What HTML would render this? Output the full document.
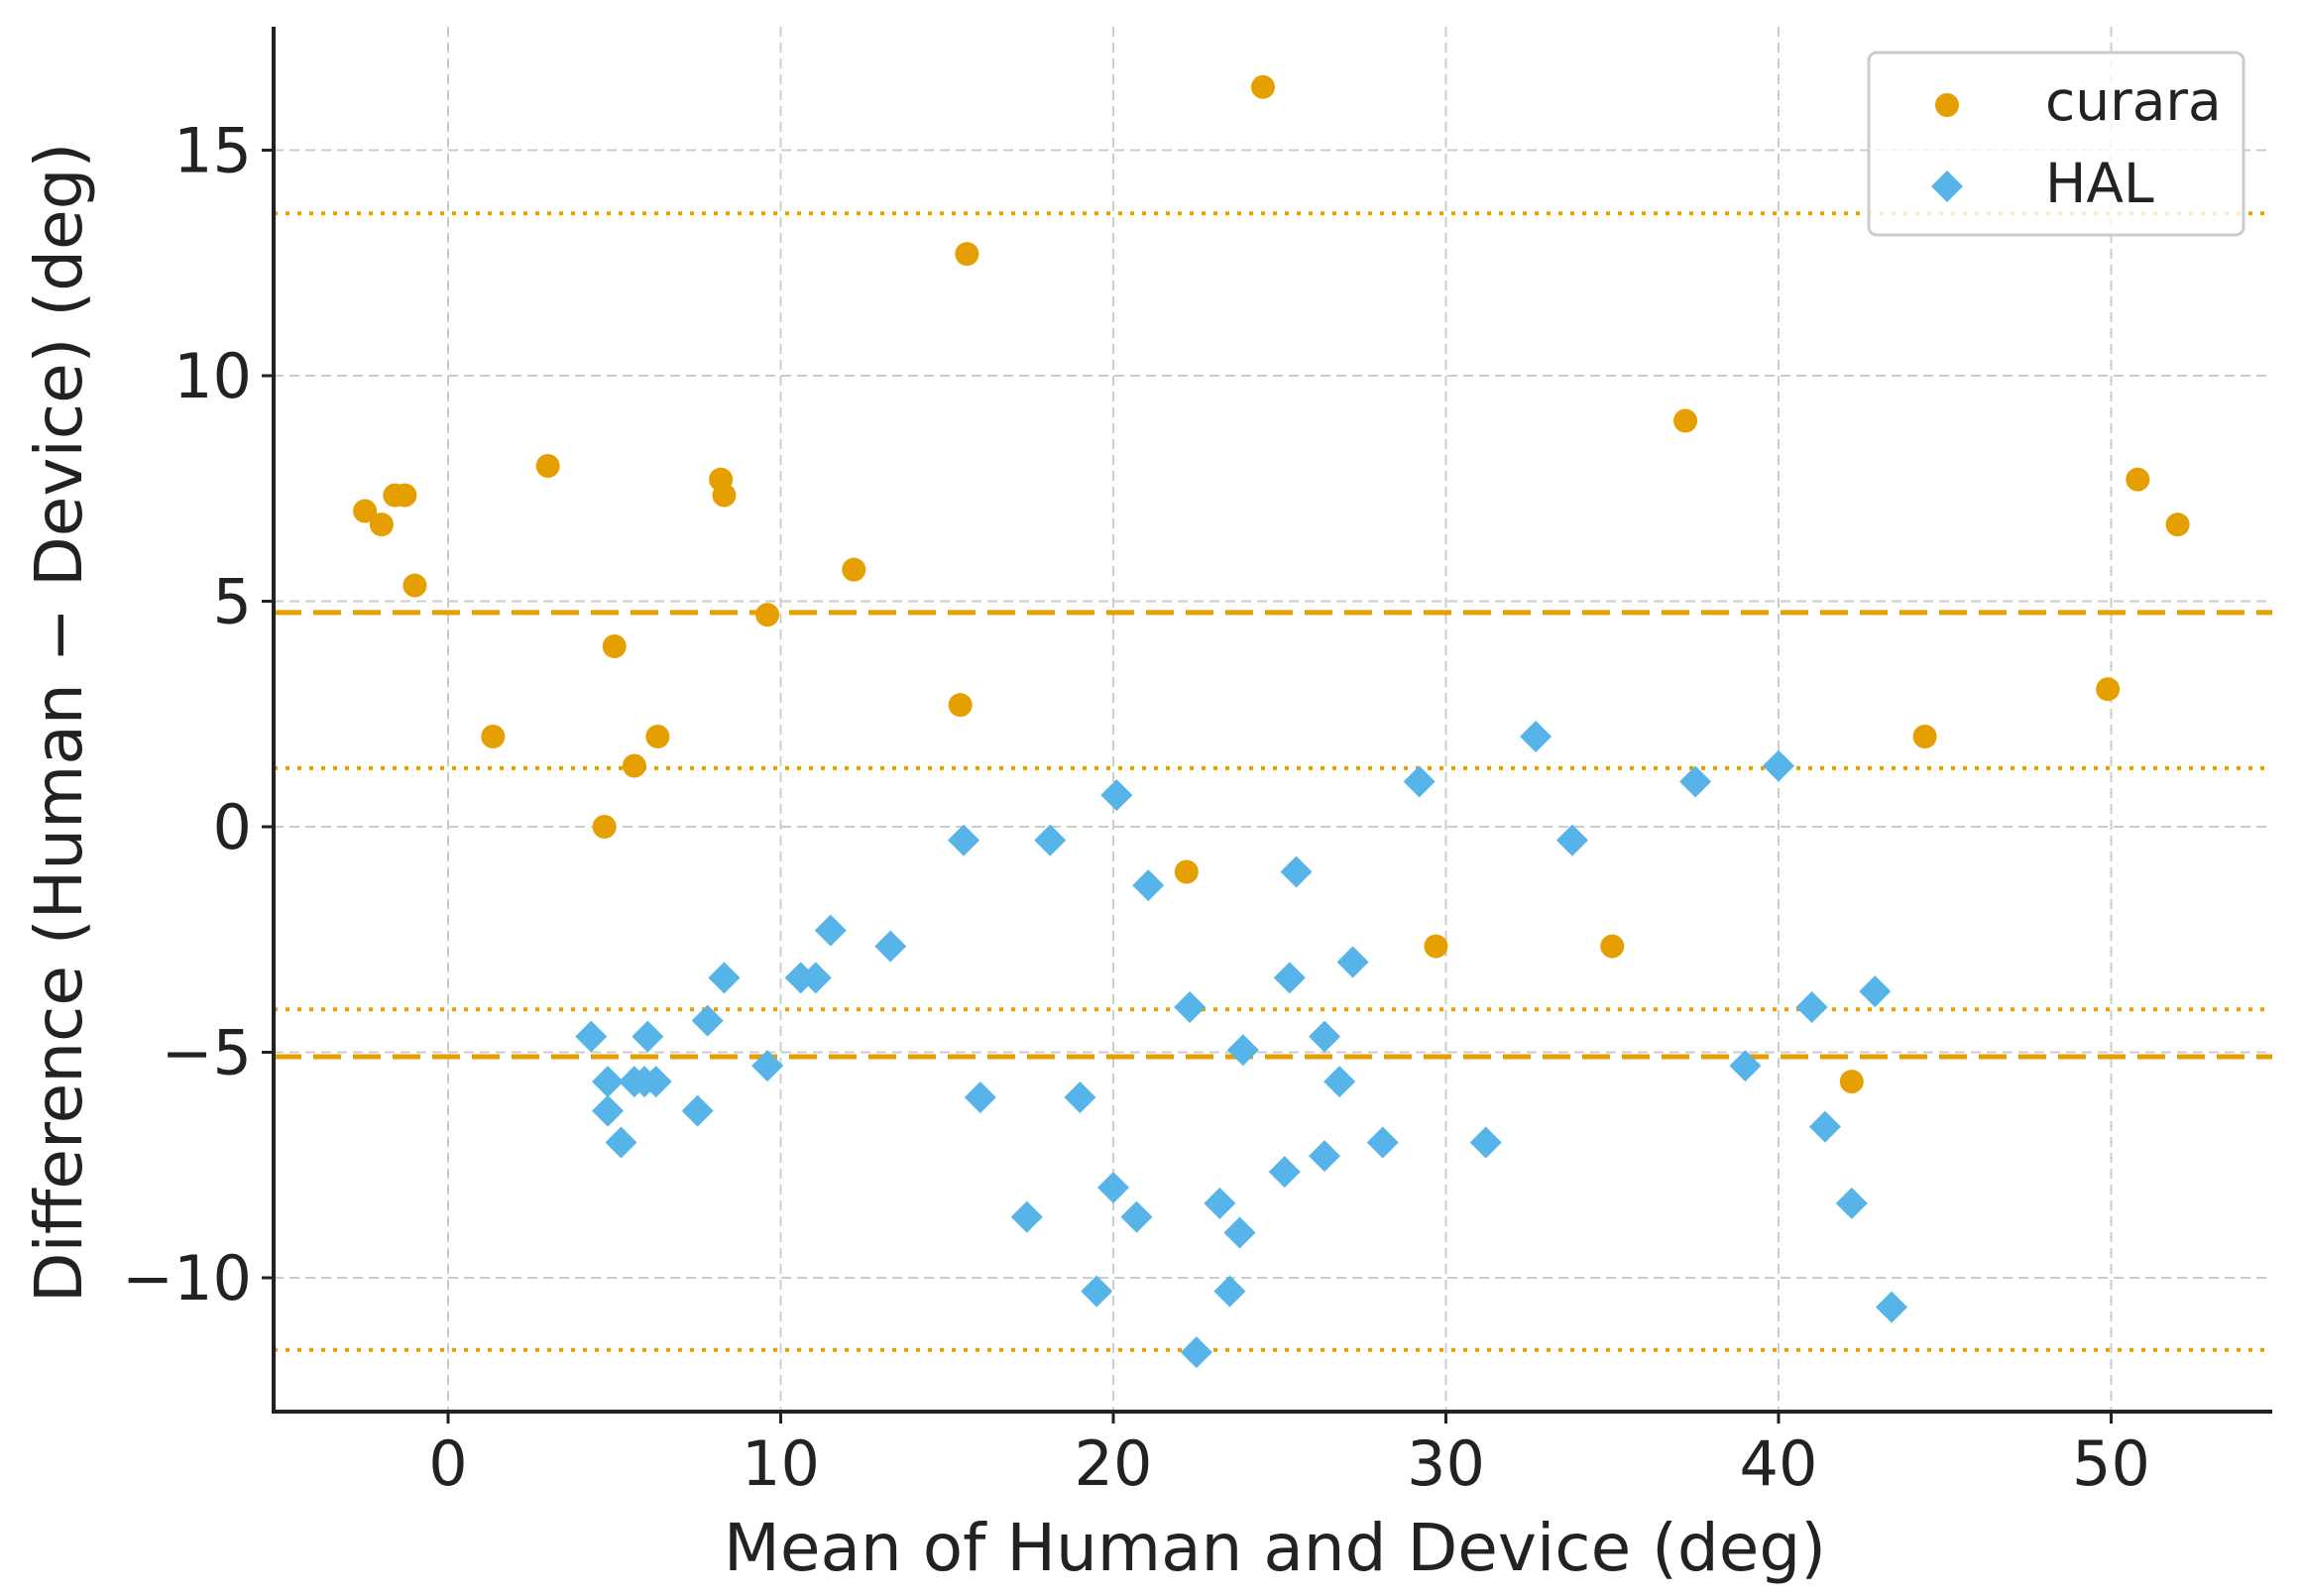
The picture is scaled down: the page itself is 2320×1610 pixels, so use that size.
<!DOCTYPE html>
<html><head><meta charset="utf-8"><style>
html,body{margin:0;padding:0;background:#fff;}
svg{display:block;font-family:"DejaVu Sans","Liberation Sans",sans-serif;}
</style></head><body>
<svg id="chart" width="2320" height="1610" xmlns="http://www.w3.org/2000/svg">
<g id="grid"></g>
<g id="reflines"></g>
<g id="points"></g>
<g id="axes"></g>
<text x="1286" y="1584" font-size="66" text-anchor="middle" fill="#222">Mean of Human and Device (deg)</text>
<text transform="translate(82,729) rotate(-90)" font-size="66" text-anchor="middle" fill="#222">Difference (Human − Device) (deg)</text>
<g>
<rect x="1885" y="53" width="378" height="184" rx="8" fill="rgba(255,255,255,0.8)" stroke="#ccc" stroke-width="3"/>
<circle cx="1964" cy="106" r="12" fill="#E69F00"/>
<text x="2063" y="121" font-size="55" fill="#222">curara</text>
<polygon points="1964,172 1980,188 1964,204 1948,188" fill="#56B4E9"/>
<text x="2063" y="204" font-size="55" fill="#222">HAL</text>
</g>
</svg>
<script>
const xTicks=[0,10,20,30,40,50];
const yTicks=[15,10,5,0,-5,-10];
const yTickLabels=["15","10","5","0","−5","−10"];
const meanLines=[4.75,-5.1];
const loaLines=[13.6,1.3,-4.05,-11.6];
const curaraX=[-2.5,-2.0,-1.6,-1.3,-1.0,1.35,3.0,4.7,5.0,5.6,6.3,8.2,8.3,9.6,12.2,15.4,15.6,22.2,24.5,29.7,35.0,37.2,42.2,44.4,49.9,50.8,52.0];
const curaraY=[7.0,6.7,7.35,7.35,5.35,2.0,8.0,0,4.0,1.35,2.0,7.7,7.35,4.7,5.7,2.7,12.7,-1.0,16.4,-2.65,-2.65,9.0,-5.65,2.0,3.05,7.7,6.7];
const halX=[4.3,4.8,4.8,5.2,5.6,5.9,6.0,6.25,7.5,7.8,8.3,9.6,10.6,11.05,11.5,13.3,15.5,16.0,17.4,18.1,19.0,19.5,20.0,20.1,20.7,21.05,22.3,22.5,23.2,23.5,23.8,23.9,25.15,25.3,25.5,26.35,26.35,26.8,27.2,28.1,29.2,31.2,32.7,33.8,37.5,39.0,40.0,41.0,41.4,42.2,42.9,43.4];
const halY=[-4.65,-5.65,-6.3,-7.0,-5.65,-5.65,-4.65,-5.65,-6.3,-4.3,-3.35,-5.3,-3.35,-3.35,-2.3,-2.65,-0.3,-6.0,-8.65,-0.3,-6.0,-10.3,-8.0,0.7,-8.65,-1.3,-4.0,-11.65,-8.35,-10.3,-9.0,-4.95,-7.65,-3.35,-1.0,-7.3,-4.65,-5.65,-3.0,-7.0,1.0,-7.0,2.0,-0.3,1.0,-5.3,1.35,-4.0,-6.65,-8.35,-3.65,-10.65];

const L=276,R=2292,T=27,B=1424;
const sx=v=>452+v*33.55;
const sy=v=>834-v*45.5;
const NS="http://www.w3.org/2000/svg";
function mk(tag,parent,attrs){const e=document.createElementNS(NS,tag);for(const k in attrs)e.setAttribute(k,attrs[k]);parent.appendChild(e);return e;}
const grid=document.getElementById('grid'),ref=document.getElementById('reflines'),pts=document.getElementById('points'),axes=document.getElementById('axes');
xTicks.forEach((t,i)=>{
  const g=mk('line',grid,{x1:sx(t),x2:sx(t),y1:T,y2:B,stroke:'#ccc','stroke-width':2,'stroke-dasharray':'10,6'});
  
  
  const tk=mk('line',axes,{x1:sx(t),x2:sx(t),y1:B,y2:B+12,stroke:'#222','stroke-width':3});
  
  
  const tx=mk('text',axes,{x:sx(t),y:1498,'font-size':62,'text-anchor':'middle',fill:'#222'});
  
  
  tx.textContent=String(t);
});
yTicks.forEach((t,i)=>{
  const g=mk('line',grid,{x1:L,x2:R,y1:sy(t),y2:sy(t),stroke:'#ccc','stroke-width':2,'stroke-dasharray':'10,6'});
  
  
  const tk=mk('line',axes,{x1:L-12,x2:L,y1:sy(t),y2:sy(t),stroke:'#222','stroke-width':3});
  
  
  const tx=mk('text',axes,{x:L-22,y:sy(t)+22,'font-size':62,'text-anchor':'end',fill:'#222'});
  
  
  tx.textContent=yTickLabels[i];
});
meanLines.forEach(v=>{
  const l=mk('line',ref,{x1:L,x2:R,y1:sy(v),y2:sy(v),stroke:'#E69F00','stroke-width':5,'stroke-dasharray':'28,12'});
  
  
});
loaLines.forEach(v=>{
  const l=mk('line',ref,{x1:L,x2:R,y1:sy(v),y2:sy(v),stroke:'#E69F00','stroke-width':4,'stroke-dasharray':'4,8'});
  
  
});
curaraX.forEach((x,i)=>{
  const c=mk('circle',pts,{cx:sx(x),cy:sy(curaraY[i]),r:12,fill:'#E69F00'});
  
  
});
halX.forEach((x,i)=>{
  const X=sx(x),Y=sy(halY[i]),d=16;
  const p=mk('polygon',pts,{points:`${X},${Y-d} ${X+d},${Y} ${X},${Y+d} ${X-d},${Y}`,fill:'#56B4E9'});
  
  
});
const ax1=mk('line',axes,{x1:L,x2:L,y1:T,y2:B+2,stroke:'#222','stroke-width':4});


const ax2=mk('line',axes,{x1:L-2,x2:R,y1:B,y2:B,stroke:'#222','stroke-width':4});


</script>
</body></html>
